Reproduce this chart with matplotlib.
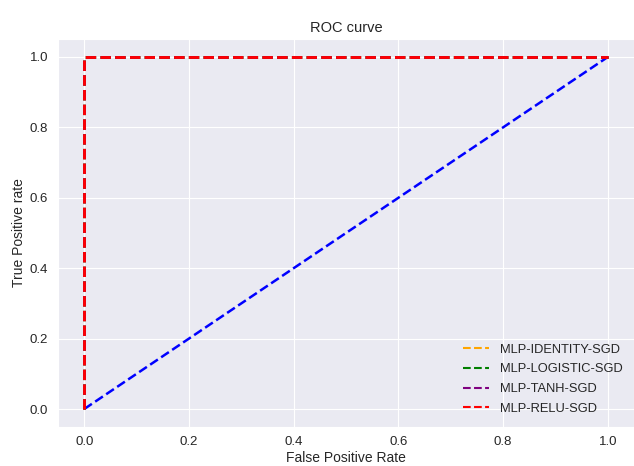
import matplotlib
matplotlib.use("Agg")
import matplotlib.pyplot as plt
import seaborn as sns

sns.set_style("darkgrid")
plt.rcParams['font.family'] = ['Liberation Sans', 'DejaVu Sans']

fpr = [0.0, 0.0, 1.0]
tpr = [0.0, 1.0, 1.0]
diag = [0.0, 1.0]
names = ["MLP-IDENTITY-SGD", "MLP-LOGISTIC-SGD", "MLP-TANH-SGD", "MLP-RELU-SGD"]
colors = ["orange", "green", "purple", "red"]

fig = plt.figure(figsize=(6.34, 4.66), dpi=100)
ax = fig.add_axes([0.0915, 0.0845, 0.9085, 0.831])
ax.plot(diag, diag, linestyle='--', color='blue', linewidth=1.8)
for n, c in zip(names, colors):
    ax.plot(fpr, tpr, linestyle='--', color=c, linewidth=2, label=n)
ax.set_title("ROC curve", fontsize=10.5, pad=5)
ax.set_xlabel("False Positive Rate", fontsize=10, labelpad=2)
ax.set_ylabel("True Positive rate", fontsize=10, labelpad=3)
ax.tick_params(labelsize=9.5)
leg = ax.legend(loc='lower right', frameon=False, fontsize=9.3, labelspacing=0.6)
for h in leg.get_lines():
    h.set_linewidth(1.5)
fig.savefig("out.png", dpi=100)
